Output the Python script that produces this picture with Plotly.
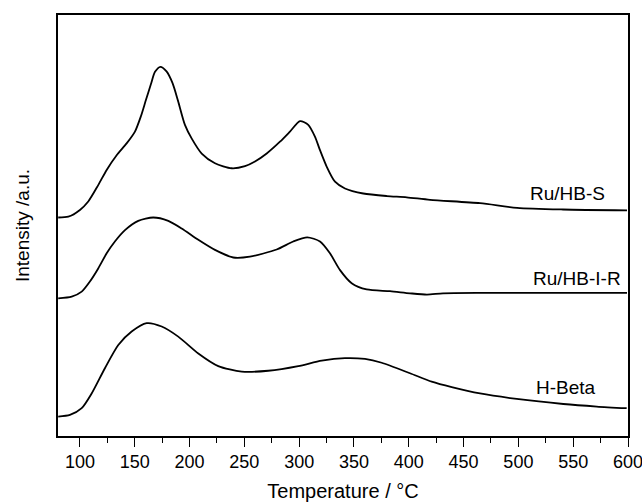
import plotly.graph_objects as go

# Temperature-programmed desorption profiles (stacked, arbitrary intensity)
t_hbs = [80.2, 89.4, 100.0, 107.6, 116.7, 124.4, 133.5, 142.6, 150.2, 155.7, 160.2, 164.8,
         168.5, 173.4, 179.0, 184.5, 189.5, 195.8, 201.9, 211.1, 223.2, 238.4, 250.6, 259.7,
         270.4, 282.5, 291.6, 300.8, 308.3, 314.4, 319.0, 325.1, 332.7, 341.8, 358.5, 379.9,
         398.1, 419.4, 465.0, 498.8, 540.7, 599.1]
i_hbs = [51.9, 52.1, 53.7, 55.7, 59.6, 63.2, 66.7, 69.5, 72.3, 76.0, 79.8, 83.6,
         86.5, 87.7, 86.6, 83.8, 79.6, 73.9, 70.7, 67.1, 64.8, 63.6, 64.1, 65.2,
         67.1, 69.9, 72.3, 74.8, 73.9, 71.1, 67.9, 64.0, 60.4, 58.8, 57.6, 57.0,
         56.7, 56.1, 55.3, 54.2, 53.8, 53.6]

t_hbir = [80.2, 92.5, 101.6, 109.1, 116.7, 124.4, 131.9, 141.1, 153.2, 166.9, 180.6, 192.8,
          208.0, 223.2, 239.9, 255.1, 279.5, 294.6, 307.4, 319.0, 328.1, 337.3, 347.9, 361.6,
          382.9, 401.1, 416.6, 431.2, 465.0, 510.6, 599.1]
i_hbir = [32.7, 33.1, 34.3, 36.7, 39.8, 43.4, 46.2, 48.9, 51.1, 51.9, 51.1, 49.3,
          46.6, 44.2, 42.4, 42.6, 44.3, 46.2, 47.2, 46.2, 43.4, 39.4, 36.3, 34.8,
          34.4, 33.9, 33.6, 33.9, 34.0, 34.0, 34.0]

t_hbeta = [80.2, 90.9, 101.6, 110.7, 122.8, 135.0, 147.2, 160.9, 174.6, 189.7, 208.0, 226.2,
           247.6, 271.8, 299.2, 320.6, 341.8, 360.1, 375.3, 401.1, 420.9, 439.2, 465.0, 498.5,
           541.0, 571.5, 598.8]
i_hbeta = [4.6, 5.0, 6.6, 10.1, 16.1, 21.6, 24.8, 26.8, 26.0, 23.6, 19.6, 16.6,
           15.3, 15.5, 16.6, 17.9, 18.5, 18.3, 17.4, 14.9, 12.9, 11.6, 10.1, 8.8,
           7.6, 7.0, 6.6]

names = ["Ru/HB-S", "Ru/HB-I-R", "H-Beta"]
label_x = [580.9, 595.5, 572.7]
label_y = [57.7, 37.3, 11.6]

x_ticks = [100, 150, 200, 250, 300, 350, 400, 450, 500, 550, 600]

FONT = "Liberation Sans, Arial, sans-serif"

fig = go.Figure()
for t, i, n in zip([t_hbs, t_hbir, t_hbeta], [i_hbs, i_hbir, i_hbeta], names):
    fig.add_trace(go.Scatter(
        x=t, y=i, mode="lines", name=n,
        line=dict(color="black", width=1.8, shape="spline", smoothing=0.7),
        showlegend=False,
    ))

for n, lx, ly in zip(names, label_x, label_y):
    fig.add_annotation(x=lx, y=ly, text=n, showarrow=False, xanchor="right",
                       yanchor="middle", font=dict(family=FONT, size=19, color="black"))

fig.update_layout(
    width=642, height=502,
    margin=dict(l=58, r=14, t=15, b=66),
    plot_bgcolor="white", paper_bgcolor="white",
    font=dict(family=FONT, size=18, color="black"),
)
fig.update_xaxes(
    range=[80, 600], tickvals=x_ticks, ticks="outside", ticklen=9, tickwidth=1.2,
    tickcolor="black", showgrid=False, zeroline=False, automargin=False,
    ticklabeloverflow="allow",
    showline=True, linecolor="black", linewidth=1.5, mirror=True,
    minor=dict(dtick=25, tick0=75, ticks="outside", ticklen=5, tickwidth=1.2, tickcolor="black"),
    title=dict(text="Temperature / °C", font=dict(size=20), standoff=13),
)
fig.update_yaxes(
    range=[0, 100], showticklabels=False, ticks="", showgrid=False, zeroline=False,
    automargin=False,
    showline=True, linecolor="black", linewidth=1.5, mirror=True,
    title=dict(text="Intensity /a.u.", font=dict(size=19), standoff=22),
)

fig.write_html("out.html")
